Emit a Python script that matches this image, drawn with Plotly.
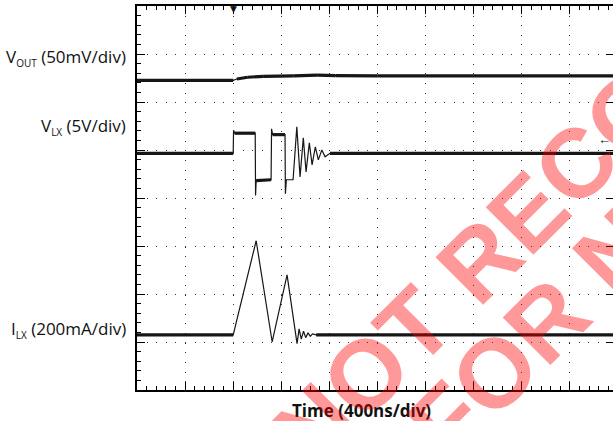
import plotly.graph_objects as go

# ---------------- data (read from the scope capture) ----------------
TIME_NS_PER_DIV = 400
T_START_NS = -800          # left edge of the screen (trigger at 0 ns)

# V_OUT, 50 mV/div (relative to pre-trigger level)
VOUT_T = [-800, 0, 30, 120, 250, 500, 700, 850, 1200, 3200]
VOUT_MV = [0, 0, 1.5, 3.3, 4.2, 4.8, 5.5, 5.0, 4.7, 4.7]
VOUT_SCALE, VOUT_POS = 50, 6.45

# V_LX, 5 V/div
VLX_T = [-800, 0, 3, 12, 183, 186, 191, 315, 319, 328, 431, 434, 442, 498,
         529, 556, 583, 606, 633, 656, 683, 708, 737, 764, 805, 3200]
VLX_V = [0, 0, 2.4, 2.1, 2.1, -4.4, -2.85, -2.75, 2.55, 1.95, 1.95, -4.2, -2.75, -2.75,
         2.76, -2.45, 1.61, -1.93, 1.09, -1.2, 0.68, -0.68, 0.36, -0.36, 0, 0]
VLX_SCALE, VLX_POS = 5, 4.93

# I_LX, 200 mA/div
ILX_T = [-800, 0, 191, 324, 448, 531, 548, 566, 585, 603, 622, 641, 660, 690, 3200]
ILX_MA = [0, 0, 392, -29, 250, -37, 25, -18, 15, -12, 8, -6, 4, 0, 0]
ILX_SCALE, ILX_POS = 200, 1.15

LABELS = ["V<sub><span style='font-size:10px'>OUT</span></sub> (50mV/div)",
          "V<sub><span style='font-size:10px'>LX</span></sub> (5V/div)",
          "I<sub><span style='font-size:10px'>LX</span></sub> (200mA/div)"]
LABEL_Y_DIV = [6.92, 5.49, 1.26]
X_TITLE = "Time (400ns/div)"
WATERMARK = ["NOT RECOMMENDED", "FOR NEW DESIGNS"]

# ---------------- geometry ----------------
W, H = 613, 421
ML, MT, MB = 137, 6, 31
DIV_PX_X = 48.1
PLOT_W = W - ML
X_END = T_START_NS + PLOT_W / DIV_PX_X * TIME_NS_PER_DIV
INK = "#161616"


def to_div(vals, scale, pos):
    return [pos + v / scale for v in vals]


def flat_segments(t, d, tol=0.12, min_dt=60):
    xs, ys = [], []
    for i in range(len(t) - 1):
        if abs(d[i + 1] - d[i]) < tol and t[i + 1] - t[i] >= min_dt:
            xs += [t[i], t[i + 1], None]
            ys += [d[i], d[i + 1], None]
    return xs, ys


fig = go.Figure()
for t, v, sc, pos in [(VOUT_T, VOUT_MV, VOUT_SCALE, VOUT_POS),
                      (VLX_T, VLX_V, VLX_SCALE, VLX_POS),
                      (ILX_T, ILX_MA, ILX_SCALE, ILX_POS)]:
    d = to_div(v, sc, pos)
    fig.add_trace(go.Scatter(x=t, y=d, mode="lines", line=dict(color=INK, width=1.2),
                             hoverinfo="skip", showlegend=False))
    fx, fy = flat_segments(t, d)
    fig.add_trace(go.Scatter(x=fx, y=fy, mode="lines", line=dict(color=INK, width=3.2),
                             hoverinfo="skip", showlegend=False, connectgaps=False))

# invisible trace to carry the right-hand tick axis
fig.add_trace(go.Scatter(x=[T_START_NS], y=[0], yaxis="y2", mode="markers",
                         marker=dict(opacity=0), hoverinfo="skip", showlegend=False))

fig.update_layout(
    width=W, height=H,
    margin=dict(l=ML, r=0, t=MT, b=MB, pad=0),
    paper_bgcolor="white", plot_bgcolor="white",
    font=dict(family="Open Sans", color="#111"),
    xaxis=dict(range=[T_START_NS, X_END], tick0=T_START_NS, dtick=TIME_NS_PER_DIV,
               showgrid=True, gridcolor="#333", gridwidth=1,
               griddash="1px,%.2fpx" % (DIV_PX_X / 5 - 1),
               ticks="inside", ticklen=8, tickwidth=1, tickcolor="black",
               showline=True, linewidth=1.5, linecolor="black", mirror="ticks",
               showticklabels=False, zeroline=False,
               minor=dict(dtick=TIME_NS_PER_DIV / 5, ticks="inside", ticklen=4,
                          tickcolor="black", tickwidth=1, showgrid=False)),
    yaxis=dict(range=[0, 8], dtick=1, tick0=0,
               showgrid=True, gridcolor="#333", gridwidth=1, griddash="1px,8.6px",
               ticks="inside", ticklen=8, tickwidth=1, tickcolor="black",
               showline=True, linewidth=1.5, linecolor="black", mirror=False,
               showticklabels=False, zeroline=False,
               minor=dict(dtick=0.2, ticks="inside", ticklen=4, tickcolor="black",
                          tickwidth=1, showgrid=False)),
    yaxis2=dict(range=[0, 8], dtick=1, tick0=0, overlaying="y", side="right",
                showgrid=False, ticks="inside", ticklen=7, tickwidth=1.2,
                tickcolor="black", showline=False, showticklabels=False,
                zeroline=False),
)

anns = []
for txt, yd in zip(LABELS, LABEL_Y_DIV):
    anns.append(dict(text=txt, xref="paper", x=0, xanchor="right", xshift=-9,
                     yref="y", y=yd, yanchor="middle", showarrow=False,
                     font=dict(family="Open Sans", size=17, color="#111")))
anns.append(dict(text=X_TITLE, xref="paper", x=(361.5 - ML) / PLOT_W, xanchor="center",
                 yref="paper", y=-20 / 384, yanchor="middle", showarrow=False,
                 font=dict(family="Open Sans", size=17, color="#111", weight="bold")))
# trigger marker
anns.append(dict(text="▼", xref="x", x=0, yref="paper", y=1, yanchor="top", yshift=4,
                 showarrow=False, font=dict(family="DejaVu Sans", size=9, color="#111")))
# channel ground marker at right edge
anns.append(dict(text="←", xref="paper", x=1, xanchor="right", yref="y", y=5.23,
                 yanchor="middle", showarrow=False,
                 font=dict(size=13, color="#111", weight="bold")))
# watermark
for txt, (px, py) in zip(WATERMARK, [(1.080, 0.784), (1.297, 0.722)]):
    anns.append(dict(text=txt, xref="paper", yref="paper", x=px, y=py,
                     xanchor="center", yanchor="middle", textangle=-45, showarrow=False,
                     font=dict(family="Liberation Sans", size=98, weight="bold",
                               color="rgba(255,0,0,0.4)")))
fig.update_layout(annotations=anns)

fig.write_html("out.html", config={"displayModeBar": False},
               post_script="document.body.style.margin='0';document.body.style.overflow='hidden';")
